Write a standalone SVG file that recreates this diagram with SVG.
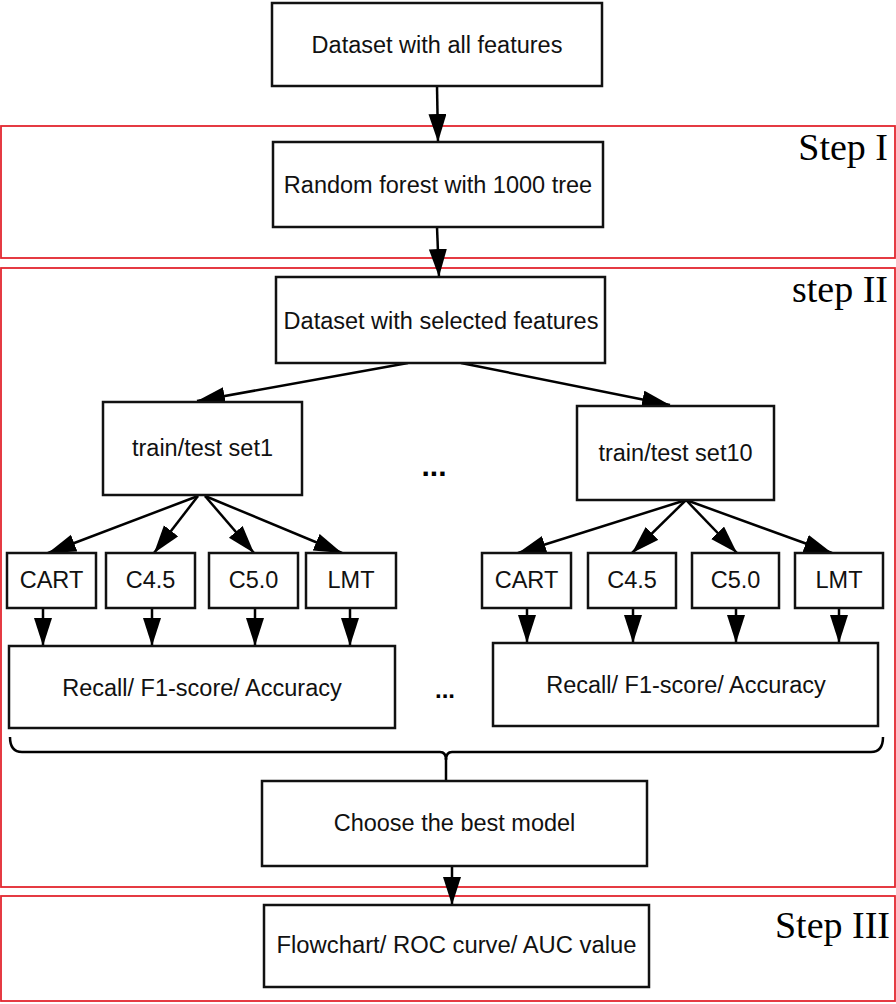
<svg xmlns="http://www.w3.org/2000/svg" width="896" height="1004" viewBox="0 0 896 1004">
<style>
.box{fill:#fff;stroke:#111;stroke-width:2.5}
.lbl{font-family:"Liberation Sans",Arial,sans-serif;font-size:23.5px;fill:#111;text-anchor:middle}
.step{fill:none;stroke:#e3262f;stroke-width:1.8}
.steplbl{font-family:"Liberation Serif","Times New Roman",serif;font-size:38px;fill:#000;text-anchor:end}
.con{fill:none;stroke:#000;stroke-width:2.5}
.dots{font-family:"Liberation Sans",Arial,sans-serif;font-weight:bold;fill:#000;text-anchor:middle}
</style>
<defs>
<marker id="ah" markerUnits="userSpaceOnUse" markerWidth="30" markerHeight="20" refX="28" refY="9" orient="auto">
<path d="M0,0 L28,9 L0,18 z" fill="#000"/>
</marker>
</defs>
<rect width="896" height="1004" fill="#fff"/>

<g id="steps">
<rect class="step" x="1" y="126" width="894" height="132"/>
<rect class="step" x="1" y="268" width="894" height="619"/>
<rect class="step" x="1" y="896" width="894" height="105"/>
<text class="steplbl" x="888" y="160">Step I</text>
<text class="steplbl" x="888" y="302">step II</text>
<text class="steplbl" x="890" y="938">Step III</text>
</g>

<g id="connectors">
<line class="con" x1="437" y1="86" x2="438" y2="142" marker-end="url(#ah)"/>
<line class="con" x1="437" y1="227" x2="439" y2="277" marker-end="url(#ah)"/>
<line class="con" x1="408" y1="363" x2="197" y2="401" marker-end="url(#ah)"/>
<line class="con" x1="461" y1="363" x2="670" y2="405" marker-end="url(#ah)"/>
<line class="con" x1="198" y1="496" x2="48" y2="553" marker-end="url(#ah)"/>
<line class="con" x1="198" y1="496" x2="154" y2="553" marker-end="url(#ah)"/>
<line class="con" x1="205" y1="496" x2="254" y2="553" marker-end="url(#ah)"/>
<line class="con" x1="205" y1="496" x2="342" y2="553" marker-end="url(#ah)"/>
<line class="con" x1="686" y1="500" x2="518" y2="553" marker-end="url(#ah)"/>
<line class="con" x1="686" y1="500" x2="632" y2="553" marker-end="url(#ah)"/>
<line class="con" x1="686" y1="500" x2="737" y2="553" marker-end="url(#ah)"/>
<line class="con" x1="686" y1="500" x2="832" y2="553" marker-end="url(#ah)"/>
<line class="con" x1="43" y1="608" x2="43" y2="646" marker-end="url(#ah)"/>
<line class="con" x1="152" y1="608" x2="152" y2="646" marker-end="url(#ah)"/>
<line class="con" x1="255" y1="608" x2="255" y2="646" marker-end="url(#ah)"/>
<line class="con" x1="350" y1="608" x2="350" y2="646" marker-end="url(#ah)"/>
<line class="con" x1="527" y1="608" x2="527" y2="643" marker-end="url(#ah)"/>
<line class="con" x1="633" y1="608" x2="633" y2="643" marker-end="url(#ah)"/>
<line class="con" x1="736" y1="608" x2="736" y2="643" marker-end="url(#ah)"/>
<line class="con" x1="839" y1="608" x2="839" y2="643" marker-end="url(#ah)"/>
<path class="con" d="M10,737 Q10,752 22,752 H440 Q446,752 446,760 Q446,752 452,752 H871 Q883,752 883,737"/>
<line class="con" x1="446" y1="758" x2="446" y2="781"/>
<line class="con" x1="452" y1="866" x2="452" y2="905" marker-end="url(#ah)"/>
</g>

<g id="n-all">
<rect class="box" x="272" y="3" width="330" height="83"/>
<text class="lbl" x="437" y="52.5">Dataset with all features</text>
</g>
<g id="n-rf">
<rect class="box" x="273" y="142" width="330" height="85"/>
<text class="lbl" x="438" y="193">Random forest with 1000 tree</text>
</g>
<g id="n-sel">
<rect class="box" x="276" y="277" width="329" height="86"/>
<text class="lbl" x="441" y="329">Dataset with selected features</text>
</g>
<g id="n-set1">
<rect class="box" x="103" y="402" width="199" height="93"/>
<text class="lbl" x="202.5" y="456">train/test set1</text>
</g>
<g id="n-set10">
<rect class="box" x="577" y="406" width="197" height="94"/>
<text class="lbl" x="675.5" y="461">train/test set10</text>
</g>
<g id="n-dots1">
<text class="dots" x="434" y="476" font-size="30">...</text>
</g>
<g id="n-cart1"><rect class="box" x="7" y="553" width="89" height="55"/><text class="lbl" x="51.5" y="588">CART</text></g>
<g id="n-c451"><rect class="box" x="106" y="553" width="89" height="55"/><text class="lbl" x="150.5" y="588">C4.5</text></g>
<g id="n-c501"><rect class="box" x="209" y="553" width="89" height="55"/><text class="lbl" x="253.5" y="588">C5.0</text></g>
<g id="n-lmt1"><rect class="box" x="306" y="553" width="90" height="55"/><text class="lbl" x="351" y="588">LMT</text></g>
<g id="n-cart2"><rect class="box" x="482" y="553" width="89" height="55"/><text class="lbl" x="526.5" y="588">CART</text></g>
<g id="n-c452"><rect class="box" x="588" y="553" width="88" height="55"/><text class="lbl" x="632" y="588">C4.5</text></g>
<g id="n-c502"><rect class="box" x="692" y="553" width="87" height="55"/><text class="lbl" x="735.5" y="588">C5.0</text></g>
<g id="n-lmt2"><rect class="box" x="795" y="553" width="88" height="55"/><text class="lbl" x="839" y="588">LMT</text></g>
<g id="n-rec1">
<rect class="box" x="9" y="646" width="386" height="82"/>
<text class="lbl" x="202" y="696">Recall/ F1-score/ Accuracy</text>
</g>
<g id="n-dots2">
<text class="dots" x="445" y="698" font-size="24">...</text>
</g>
<g id="n-rec2">
<rect class="box" x="493" y="643" width="385" height="83"/>
<text class="lbl" x="686" y="693">Recall/ F1-score/ Accuracy</text>
</g>
<g id="n-best">
<rect class="box" x="262" y="781" width="385" height="85"/>
<text class="lbl" x="454.5" y="831">Choose the best model</text>
</g>
<g id="n-out">
<rect class="box" x="264" y="905" width="385" height="82"/>
<text class="lbl" x="456.5" y="953" font-size="21" textLength="360" lengthAdjust="spacingAndGlyphs">Flowchart/ ROC curve/ AUC value</text>
</g>
</svg>
